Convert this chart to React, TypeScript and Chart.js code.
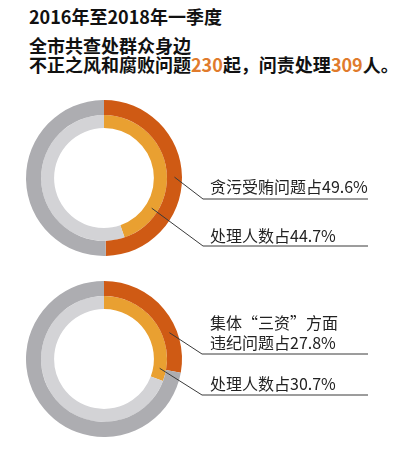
import { useEffect, useRef } from "react";
import { Chart, registerables } from "chart.js";

Chart.register(...registerables);

// values (percent)
const titleYears = "2016年至2018年一季度";
const caseCount = 230;
const punishCount = 309;

const topOuter = [49.6, 50.4]; // 贪污受贿问题
const topInner = [44.7, 55.3]; // 处理人数
const bottomOuter = [27.8, 72.2]; // 集体"三资"违纪问题
const bottomInner = [30.7, 69.3]; // 处理人数

const outerColors = ["#cf5a14", "#adadb1"];
const innerColors = ["#e9a031", "#d3d3d6"];

// leader line: where on the arc it leaves, and the elbow in canvas coords
interface Leader {
  frac: number;
  ex: number;
  ey: number;
  endX: number;
}

const leaderPlugin = {
  id: "leaders",
  afterDatasetsDraw(chart: any, _args: any, opts: any) {
    const leaders: Leader[] = opts.items || [];
    const ctx = chart.ctx;
    ctx.save();
    ctx.strokeStyle = "#3a3a3a";
    ctx.lineWidth = 1;
    leaders.forEach((l, i) => {
      const meta = chart.getDatasetMeta(i);
      const arc: any = meta.data[0];
      if (!arc) return;
      const p = arc.getProps(["x", "y", "startAngle", "endAngle", "innerRadius", "outerRadius"], true);
      const a = p.startAngle + l.frac * (p.endAngle - p.startAngle);
      const r = (p.innerRadius + p.outerRadius) / 2;
      const x = p.x + r * Math.cos(a);
      const y = p.y + r * Math.sin(a);
      ctx.beginPath();
      ctx.moveTo(x, y);
      ctx.lineTo(l.ex, l.ey);
      ctx.lineTo(l.endX, l.ey);
      ctx.stroke();
    });
    ctx.restore();
  },
};

function Ring({
  outer,
  inner,
  top,
  padTop,
  padBottom,
  leaders,
}: {
  outer: number[];
  inner: number[];
  top: number;
  padTop: number;
  padBottom: number;
  leaders: Leader[];
}) {
  const ref = useRef<HTMLCanvasElement>(null);

  useEffect(() => {
    if (!ref.current) return;
    const chart = new Chart(ref.current, {
      type: "doughnut",
      data: {
        labels: ["a", "b"],
        datasets: [
          { data: outer, backgroundColor: outerColors, borderWidth: 0, weight: 15 } as any,
          { data: inner, backgroundColor: innerColors, borderWidth: 0, weight: 13 } as any,
        ],
      },
      options: {
        animation: false,
        responsive: false,
        events: [],
        cutout: "64%",
        layout: { padding: { left: 26, right: 218, top: padTop, bottom: padBottom } },
        plugins: {
          legend: { display: false },
          tooltip: { enabled: false },
          leaders: { items: leaders },
        } as any,
      },
      plugins: [leaderPlugin],
    });
    return () => chart.destroy();
  }, [outer, inner, padTop, padBottom, leaders]);

  return (
    <canvas
      ref={ref}
      width={400}
      height={180}
      style={{ position: "absolute", left: 0, top, width: 400, height: 180 }}
    />
  );
}

const topLeaders: Leader[] = [
  { frac: 0.5, ex: 203, ey: 109, endX: 368 },
  { frac: 0.76, ex: 203, ey: 156, endX: 368 },
];
const bottomLeaders: Leader[] = [
  { frac: 0.68, ex: 202, ey: 82, endX: 368 },
  { frac: 0.9, ex: 202, ey: 123, endX: 368 },
];

const font = '"Noto Sans CJK SC", "Noto Sans", sans-serif';
const orange = "#e07b2c";

const label = (top: number): React.CSSProperties => ({
  position: "absolute",
  left: 210,
  top,
  fontSize: 16,
  lineHeight: "20px",
  color: "#222",
  whiteSpace: "nowrap",
});

export default function App() {
  return (
    <div
      style={{
        position: "absolute",
        left: 0,
        top: 0,
        width: 400,
        height: 462,
        background: "#fff",
        fontFamily: font,
        overflow: "hidden",
      }}
    >
      <div style={{ position: "absolute", left: 29, top: 6, fontSize: 18, fontWeight: 700, lineHeight: "20px", color: "#111", whiteSpace: "nowrap" }}>
        {titleYears}
      </div>
      <div style={{ position: "absolute", left: 29, top: 35, fontSize: 18, fontWeight: 700, lineHeight: "20px", color: "#111", whiteSpace: "nowrap" }}>
        全市共查处群众身边
      </div>
      <div style={{ position: "absolute", left: 29, top: 54, fontSize: 18, fontWeight: 700, lineHeight: "20px", color: "#111", whiteSpace: "nowrap" }}>
        不正之风和腐败问题<span style={{ color: orange }}>{caseCount}</span>起，问责处理
        <span style={{ color: orange }}>{punishCount}</span>人。
      </div>

      <Ring outer={topOuter} inner={topInner} top={90} padTop={10} padBottom={14} leaders={topLeaders} />
      <Ring outer={bottomOuter} inner={bottomInner} top={272} padTop={9} padBottom={15} leaders={bottomLeaders} />

      <div style={label(176)}>贪污受贿问题占{topOuter[0]}%</div>
      <div style={label(225)}>处理人数占{topInner[0]}%</div>
      <div style={label(312)}>
        集体“三资”方面
        <br />
        违纪问题占{bottomOuter[0]}%
      </div>
      <div style={label(373)}>处理人数占{bottomInner[0]}%</div>
    </div>
  );
}
